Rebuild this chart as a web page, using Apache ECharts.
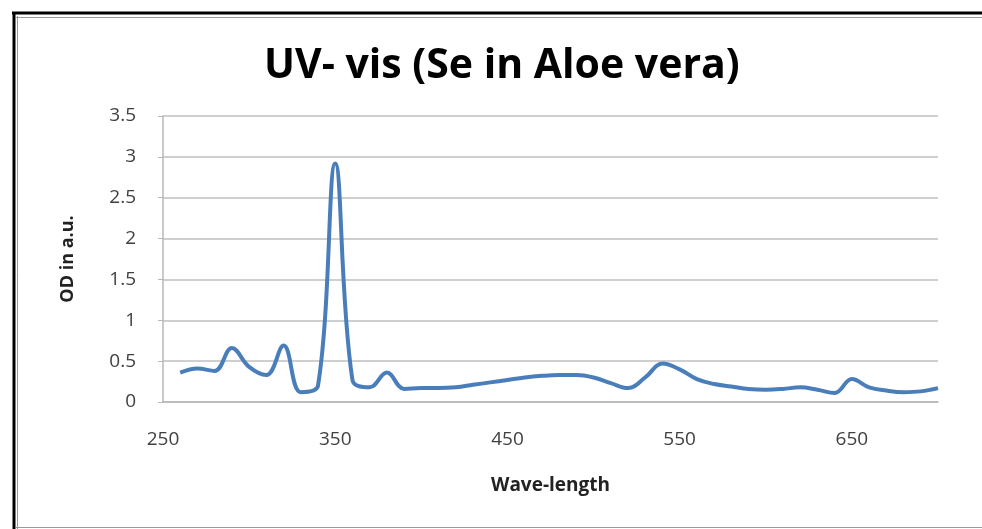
<!DOCTYPE html>
<html>
<head>
<meta charset="utf-8">
<script src="https://cdn.jsdelivr.net/npm/echarts@6/dist/echarts.min.js"></script>
<style>
  html, body { margin: 0; padding: 0; background: #fff; }
  #main { width: 982px; height: 529px; }
</style>
</head>
<body>
<div id="main"></div>
<script>
// wavelength (nm) and optical density
var wavelength = [260, 270, 280, 290, 300, 310, 320, 330, 340, 350, 360, 370, 380, 390, 400,
  410, 420, 430, 440, 450, 460, 470, 480, 490, 500, 510, 520, 530, 540, 550,
  560, 570, 580, 590, 600, 610, 620, 630, 640, 650, 660, 670, 680, 690, 700];
var od = [0.36, 0.41, 0.38, 0.66, 0.43, 0.33, 0.69, 0.12, 0.20, 2.92, 0.27, 0.18, 0.36, 0.16, 0.17,
  0.17, 0.18, 0.21, 0.24, 0.27, 0.30, 0.32, 0.33, 0.33, 0.30, 0.23, 0.17, 0.30, 0.47, 0.40,
  0.28, 0.22, 0.19, 0.16, 0.15, 0.16, 0.18, 0.15, 0.11, 0.28, 0.18, 0.14, 0.12, 0.13, 0.17];

var points = wavelength.map(function (w, i) { return [w, od[i]]; });

var chart = echarts.init(document.getElementById('main'));
chart.setOption({
  backgroundColor: '#fff',
  animation: false,
  textStyle: { fontFamily: 'Open Sans' },
  title: {
    text: 'UV- vis (Se in Aloe vera)',
    left: 259,
    top: 41,
    textStyle: { fontFamily: 'Open Sans', fontSize: 41, fontWeight: 'bold', color: '#000' }
  },
  // outer frame of the original picture
  graphic: [
    { type: 'line', shape: { x1: 14, y1: 12, x2: 14, y2: 529 }, style: { stroke: '#000', lineWidth: 3 } },
    { type: 'line', shape: { x1: 17.5, y1: 16, x2: 17.5, y2: 529 }, style: { stroke: '#999', lineWidth: 1 } },
    { type: 'line', shape: { x1: 12, y1: 13, x2: 982, y2: 13 }, style: { stroke: '#000', lineWidth: 3 } },
    { type: 'line', shape: { x1: 16, y1: 17.5, x2: 982, y2: 17.5 }, style: { stroke: '#999', lineWidth: 1 } },
    { type: 'line', shape: { x1: 16, y1: 527.5, x2: 982, y2: 527.5 }, style: { stroke: '#999', lineWidth: 1 } }
  ],
  grid: { left: 163, right: 44, top: 116, bottom: 127 },
  xAxis: {
    type: 'value',
    min: 250,
    max: 700,
    interval: 100,
    name: 'Wave-length',
    nameLocation: 'middle',
    nameGap: 74,
    nameTextStyle: { fontFamily: 'Open Sans', fontSize: 19, fontWeight: 'bold', color: '#222' },
    axisLine: { lineStyle: { color: '#b8b8b8', width: 1.5 } },
    axisTick: { show: false },
    splitLine: { show: false },
    axisLabel: { margin: 28, fontSize: 19, color: '#404040', showMaxLabel: false }
  },
  yAxis: {
    type: 'value',
    min: 0,
    max: 3.5,
    interval: 0.5,
    name: 'OD in a.u.',
    nameLocation: 'middle',
    nameGap: 86,
    nameTextStyle: { fontFamily: 'Open Sans', fontSize: 18, fontWeight: 'bold', color: '#222' },
    axisLine: { show: true, lineStyle: { color: '#b8b8b8', width: 1.5 } },
    axisTick: { show: true, length: 5, lineStyle: { color: '#b8b8b8' } },
    splitLine: { lineStyle: { color: '#cfcfcf', width: 2 } },
    axisLabel: { margin: 27, fontSize: 19, color: '#404040' }
  },
  series: [{
    type: 'line',
    data: points,
    smooth: 0.4,
    showSymbol: false,
    lineStyle: { color: '#4a7ebb', width: 4 }
  }]
});
</script>
</body>
</html>
